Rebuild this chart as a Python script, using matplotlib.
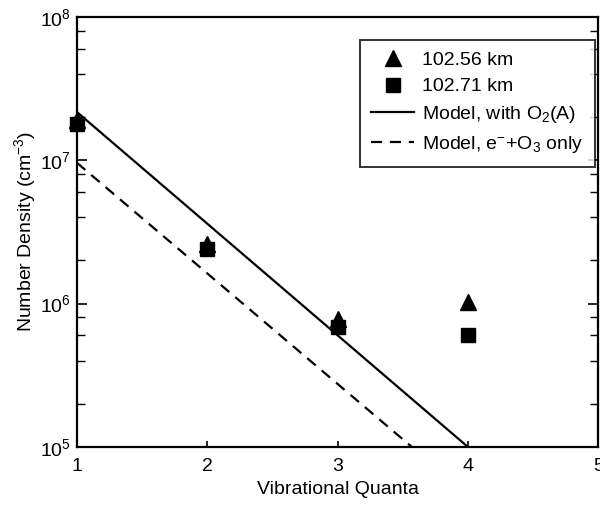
import numpy as np
import matplotlib
matplotlib.use('Agg')
import matplotlib.pyplot as plt
from matplotlib.ticker import LogLocator, FixedLocator, NullFormatter

plt.rcParams['font.family'] = ['Liberation Sans', 'DejaVu Sans']
plt.rcParams['mathtext.fontset'] = 'custom'
plt.rcParams['mathtext.rm'] = 'Liberation Sans'
plt.rcParams['mathtext.it'] = 'Liberation Sans'

# data
quanta = [1, 2, 3, 4]
dens_10256 = [1.9e7, 2.6e6, 7.8e5, 1.03e6]
dens_10271 = [1.8e7, 2.4e6, 6.9e5, 6.0e5]

model_o2a_x = [1, 4]
model_o2a_y = [2.17e7, 1.0e5]
model_o3_x = [1, 3.57]
model_o3_y = [9.6e6, 1.0e5]

fig = plt.figure(figsize=(6, 5.09), dpi=100)
ax = fig.add_axes([0.128, 0.122, 0.869, 0.845])

ax.plot(model_o2a_x, model_o2a_y, color='black', linewidth=1.6,
        label=r'Model, with O$_2$(A)')
ax.plot(model_o3_x, model_o3_y, color='black', linewidth=1.6,
        linestyle=(0, (5, 3.5)), label=r'Model, e$^{-}$+O$_3$ only')
ax.plot(quanta, dens_10256, linestyle='none', marker='^', markersize=11,
        color='black', label='102.56 km', clip_on=False)
ax.plot(quanta, dens_10271, linestyle='none', marker='s', markersize=9.5,
        color='black', label='102.71 km', clip_on=False)

ax.set_yscale('log')
ax.set_xlim(1, 5)
ax.set_ylim(1e5, 1e8)
ax.set_xticks([1, 2, 3, 4, 5])
ax.set_yticks([1e5, 1e6, 1e7, 1e8])
ax.set_yticklabels([r'10$^{5}$', r'10$^{6}$', r'10$^{7}$', r'10$^{8}$'])
ax.yaxis.set_minor_locator(LogLocator(base=10, subs=[2, 4, 6, 8]))
ax.yaxis.set_minor_formatter(NullFormatter())
ax.tick_params(axis='both', which='major', direction='in', length=7,
               width=1.2, labelsize=14, right=True, top=False)
ax.tick_params(axis='y', which='minor', direction='in', length=6,
               width=1.0, right=True)
ax.tick_params(axis='x', which='major', length=4, pad=8)
ax.tick_params(axis='y', which='major', pad=4)

for sp in ax.spines.values():
    sp.set_linewidth(1.6)

ax.set_xlabel('Vibrational Quanta', fontsize=14, labelpad=4)
ax.set_ylabel(r'Number Density (cm$^{-3}$)', fontsize=14, labelpad=2)

h, l = ax.get_legend_handles_labels()
order = [2, 3, 0, 1]
leg = ax.legend([h[i] for i in order], [l[i] for i in order],
                loc='upper right', bbox_to_anchor=(0.994, 0.9465),
                fontsize=14, frameon=True, fancybox=False, edgecolor='black',
                handlelength=2.2, handletextpad=0.4, borderpad=0.6,
                labelspacing=0.45, borderaxespad=0.0)
leg.get_frame().set_linewidth(1.4)

fig.savefig('out.png', dpi=100)
